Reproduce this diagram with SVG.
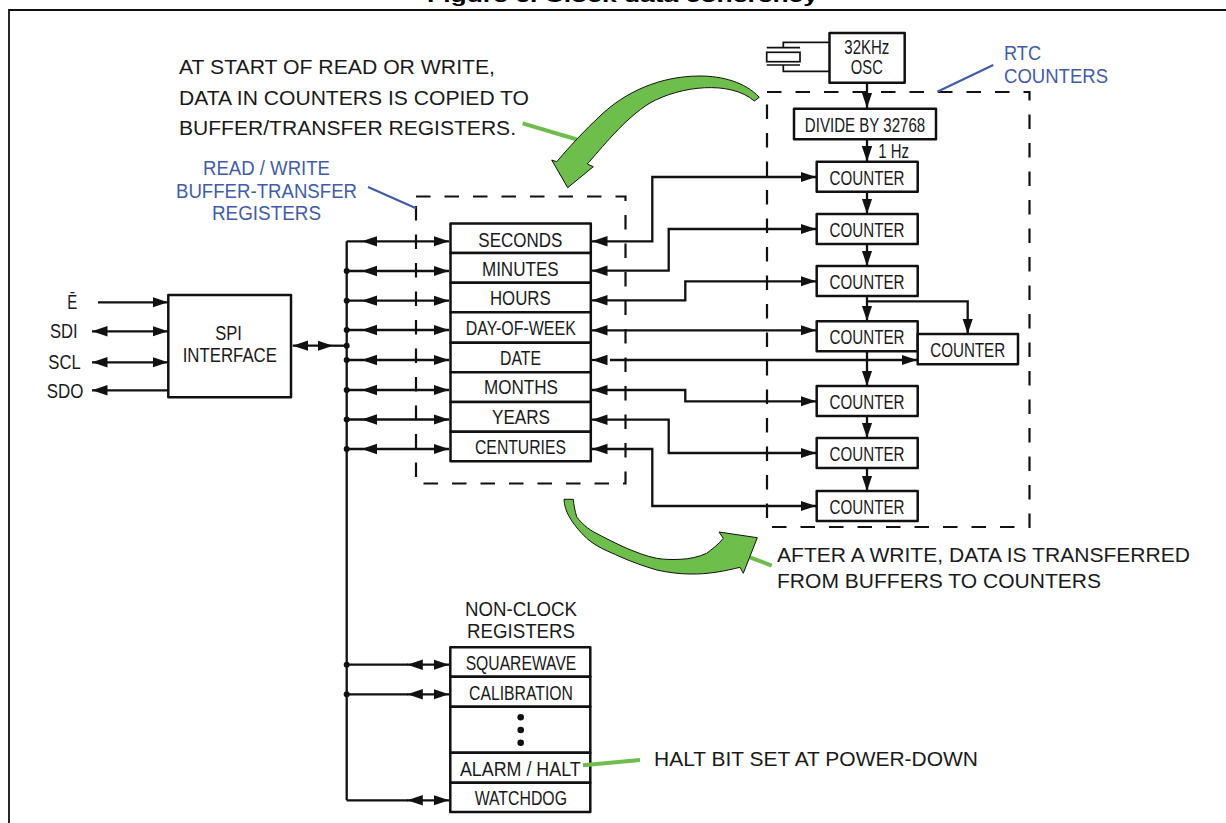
<svg xmlns="http://www.w3.org/2000/svg" width="1226" height="823" viewBox="0 0 1226 823">
<style>
text{font-family:"Liberation Sans",Arial,sans-serif;fill:#1a1a1a;font-size:20px}
.m{text-anchor:middle;font-size:20px}
.big{font-size:20.5px}
.blue{fill:#3f5dab;font-size:20px}
.title{font-weight:bold;font-size:19px;fill:#000}
.box{fill:#fff;stroke:#111;stroke-width:2.5;stroke-linejoin:round}
.c{fill:none;stroke:#111;stroke-width:2.3;stroke-linejoin:miter}
.a{marker-end:url(#h)}
.b{marker-start:url(#h);marker-end:url(#h)}
.s{marker-start:url(#h)}
.dash{fill:none;stroke:#111;stroke-width:2.2;stroke-dasharray:14.5 14}
.x{fill:none;stroke:#111;stroke-width:1.7}
.gl{stroke:#6dbe4b;stroke-width:4;fill:none}
.bl{stroke:#3f5dab;stroke-width:2.2;fill:none}
.ga{fill:#6dbe4b;stroke:#111;stroke-width:1}
.dot{fill:#111}
</style>
<defs>
<marker id="h" markerUnits="userSpaceOnUse" markerWidth="17" markerHeight="12" refX="15.500" refY="6" orient="auto-start-reverse"><path d="M0 0.800L15.500 6L0 11.200Z" fill="#111"/></marker>
</defs>
<rect width="1226" height="823" fill="#fff"/>
<text class="title" x="427" y="1.500" textLength="391" lengthAdjust="spacingAndGlyphs">Figure 6. Clock data coherency</text>
<path d="M9 823V10H1226" fill="none" stroke="#111" stroke-width="1.800"/>

<g id="containers">
<rect class="dash" x="416" y="196.500" width="209.500" height="287"/>
<rect class="dash" x="767" y="92" width="262.500" height="435"/>
</g>

<g id="callouts">
<path class="gl" d="M522.700 123.300L577 139.500"/>
<path class="gl" d="M750 557.300L771.700 565.700"/>
<path class="bl" d="M937.300 91.700L993.300 65"/>
<path class="bl" d="M368 187L416 208.300"/>
<path class="ga" d="M759.300 97.300C745 82 722 76 700 76C660 76 625 92 600 116C585 130 570 146 556.700 161.700L551.700 160L567.700 187.700L593.300 166.700L587.300 164C600 150 625 118 650 103C680 86 730 80 754.300 101Z"/>
<path class="ga" d="M564 499.300C564.500 510 570 522 586.700 538.300C598 548 608 551 620 556.700C632 562 645 566.500 656.700 570C668 572.500 680 574 690 574C708 574.500 725 571 740 567.300L743.300 573.300L757.300 537.700L719 532L723.300 538.300C718 545 712 549 706.700 553.300C698 557 690 559 680 559.300C672 559.800 664 559.500 656.700 558.300C645 556 636 552 626.700 548.300C615 543 604 537.500 593.300 531.700C585 527 578 519 576.700 516.700C575 511 573.800 505 573.300 499.300Z"/>
</g>

<g id="connectors">
<path class="c a" d="M98 302.300H168"/>
<path class="c b" d="M92 331.300H168"/>
<path class="c b" d="M92 362.300H168"/>
<path class="c s" d="M92 390.300H168"/>
<path class="c b" d="M292.700 345.700H333"/>
<path class="c" d="M333 345.700H346.700"/>
<path class="c" d="M346.700 241.300V800.300"/>
<path class="c" d="M346.700 241.300H362M346.700 271H362M346.700 300.700H362M346.700 330H362M346.700 360H362M346.700 390H362M346.700 419.500H362M346.700 449H362M346.700 664.700H408M346.700 694.300H408M346.700 800.300H408"/>
<path class="c b" d="M361.700 241.300H449"/>
<path class="c b" d="M361.700 271H449"/>
<path class="c b" d="M361.700 300.700H449"/>
<path class="c b" d="M361.700 330H449"/>
<path class="c b" d="M361.700 360H449"/>
<path class="c b" d="M361.700 390H449"/>
<path class="c b" d="M361.700 419.500H449"/>
<path class="c b" d="M361.700 449H449"/>
<path class="c b" d="M407.300 664.700H449"/>
<path class="c b" d="M407.300 694.300H449"/>
<path class="c b" d="M407.300 800.300H449"/>
<circle class="dot" cx="346.700" cy="271" r="3"/><circle class="dot" cx="346.700" cy="300.700" r="3"/><circle class="dot" cx="346.700" cy="330" r="3"/><circle class="dot" cx="346.700" cy="345.700" r="3"/><circle class="dot" cx="346.700" cy="360" r="3"/><circle class="dot" cx="346.700" cy="390" r="3"/><circle class="dot" cx="346.700" cy="419.500" r="3"/><circle class="dot" cx="346.700" cy="449" r="3"/><circle class="dot" cx="346.700" cy="664.700" r="3"/><circle class="dot" cx="346.700" cy="694.300" r="3"/>
<path class="c b" d="M592 241.300H652.300V177H816"/>
<path class="c b" d="M592 270.700H668.700V229H816"/>
<path class="c b" d="M592 300.300H685.300V281.300H816"/>
<path class="c b" d="M592 330.300H816"/>
<path class="c s" d="M592 360H596"/>
<path class="c a" d="M610 360H917"/>
<path class="c b" d="M592 390H685.300V401.300H816"/>
<path class="c b" d="M592 419.700H668.700V453H816"/>
<path class="c b" d="M592 449H652.300V506H816"/>
<path class="c a" d="M867 83V108"/>
<path class="c a" d="M867 139.500V161.500"/>
<path class="c a" d="M867 192V214"/>
<path class="c a" d="M867 244V266"/>
<path class="c a" d="M867 296V321"/>
<path class="c a" d="M867 351.500V386"/>
<path class="c a" d="M867 416V438"/>
<path class="c a" d="M867 468V491"/>
<path class="c a" d="M867 301.300H967.700V334"/>
</g>

<g id="crystal">
<path class="x" d="M829.500 42.300H783.300V47.700M829.500 71.300H783.300V65M766.700 47.700H800M766.700 65H800"/>
<rect class="x" x="766.700" y="52.300" width="33.300" height="9.400"/>
</g>
<g id="osc"><rect class="box" x="829.500" y="33" width="75.200" height="49.700"/><text class="m" x="866.800" y="54" textLength="45" lengthAdjust="spacingAndGlyphs">32KHz</text><text class="m" x="866.800" y="74" textLength="32" lengthAdjust="spacingAndGlyphs">OSC</text></g>
<g id="divider"><rect class="box" x="794" y="108.700" width="142" height="30.600"/><text class="m" x="865" y="131.500" textLength="120.300" lengthAdjust="spacingAndGlyphs">DIVIDE BY 32768</text></g>
<text x="878.300" y="157.700" textLength="30.700" lengthAdjust="spacingAndGlyphs">1 Hz</text>
<g id="counter-1"><rect class="box" x="816.700" y="161.700" width="101" height="30"/><text class="m" x="867" y="185" textLength="75" lengthAdjust="spacingAndGlyphs">COUNTER</text></g>
<g id="counter-2"><rect class="box" x="816.700" y="214" width="101" height="30"/><text class="m" x="867" y="237" textLength="75" lengthAdjust="spacingAndGlyphs">COUNTER</text></g>
<g id="counter-3"><rect class="box" x="816.700" y="266" width="101" height="30"/><text class="m" x="867" y="289" textLength="75" lengthAdjust="spacingAndGlyphs">COUNTER</text></g>
<g id="counter-4"><rect class="box" x="816.700" y="321.300" width="101" height="30"/><text class="m" x="867" y="344" textLength="75" lengthAdjust="spacingAndGlyphs">COUNTER</text></g>
<g id="counter-date"><rect class="box" x="917.700" y="334" width="100.300" height="30.300"/><text class="m" x="967.700" y="357" textLength="75" lengthAdjust="spacingAndGlyphs">COUNTER</text></g>
<g id="counter-5"><rect class="box" x="816.700" y="386" width="101" height="30"/><text class="m" x="867" y="408.500" textLength="75" lengthAdjust="spacingAndGlyphs">COUNTER</text></g>
<g id="counter-6"><rect class="box" x="816.700" y="438" width="101" height="30"/><text class="m" x="867" y="460.500" textLength="75" lengthAdjust="spacingAndGlyphs">COUNTER</text></g>
<g id="counter-7"><rect class="box" x="816.700" y="491" width="101" height="30"/><text class="m" x="867" y="513.500" textLength="75" lengthAdjust="spacingAndGlyphs">COUNTER</text></g>

<g id="spi"><rect class="box" x="168.300" y="295" width="122.700" height="102.300"/><text class="m" x="228.500" y="340" textLength="26.700" lengthAdjust="spacingAndGlyphs">SPI</text><text class="m" x="229.800" y="362.300" textLength="94.300" lengthAdjust="spacingAndGlyphs">INTERFACE</text></g>
<g id="pins">
<text class="m" x="72.300" y="309" textLength="10" lengthAdjust="spacingAndGlyphs">Ē</text>
<text class="m" x="63.800" y="338.300" textLength="27.700" lengthAdjust="spacingAndGlyphs">SDI</text>
<text class="m" x="64.500" y="369" textLength="32.300" lengthAdjust="spacingAndGlyphs">SCL</text>
<text class="m" x="65" y="397.700" textLength="36.700" lengthAdjust="spacingAndGlyphs">SDO</text>
</g>

<g id="reg-seconds"><rect class="box" x="450.500" y="223.500" width="140.300" height="29.500"/><text class="m" x="520.300" y="246.500" textLength="84" lengthAdjust="spacingAndGlyphs">SECONDS</text></g>
<g id="reg-minutes"><rect class="box" x="450.500" y="253" width="140.300" height="29.800"/><text class="m" x="520.300" y="275.500" textLength="76.700" lengthAdjust="spacingAndGlyphs">MINUTES</text></g>
<g id="reg-hours"><rect class="box" x="450.500" y="282.800" width="140.300" height="29.500"/><text class="m" x="520.300" y="305.200" textLength="60.700" lengthAdjust="spacingAndGlyphs">HOURS</text></g>
<g id="reg-dow"><rect class="box" x="450.500" y="312.300" width="140.300" height="30.400"/><text class="m" x="520.800" y="335" textLength="110" lengthAdjust="spacingAndGlyphs">DAY-OF-WEEK</text></g>
<g id="reg-date"><rect class="box" x="450.500" y="342.700" width="140.300" height="29.600"/><text class="m" x="520.500" y="364.700" textLength="41" lengthAdjust="spacingAndGlyphs">DATE</text></g>
<g id="reg-months"><rect class="box" x="450.500" y="372.300" width="140.300" height="29.700"/><text class="m" x="521" y="394.400" textLength="74" lengthAdjust="spacingAndGlyphs">MONTHS</text></g>
<g id="reg-years"><rect class="box" x="450.500" y="402" width="140.300" height="29.700"/><text class="m" x="521" y="424" textLength="58" lengthAdjust="spacingAndGlyphs">YEARS</text></g>
<g id="reg-centuries"><rect class="box" x="450.500" y="431.700" width="140.300" height="29.500"/><text class="m" x="520.500" y="454" textLength="91" lengthAdjust="spacingAndGlyphs">CENTURIES</text></g>

<g id="reg-squarewave"><rect class="box" x="450.300" y="647.300" width="140" height="29.400"/><text class="m" x="521" y="669.700" textLength="110.700" lengthAdjust="spacingAndGlyphs">SQUAREWAVE</text></g>
<g id="reg-calibration"><rect class="box" x="450.300" y="676.700" width="140" height="30"/><text class="m" x="521" y="699.700" textLength="104" lengthAdjust="spacingAndGlyphs">CALIBRATION</text></g>
<g id="reg-ellipsis"><rect class="box" x="450.300" y="706.700" width="140" height="46"/><circle class="dot" cx="520.700" cy="717.300" r="3.300"/><circle class="dot" cx="520.700" cy="730" r="3.300"/><circle class="dot" cx="520.700" cy="742.700" r="3.300"/></g>
<g id="reg-alarm"><rect class="box" x="450.300" y="752.700" width="140" height="30"/><text class="m" x="520.300" y="775.500" textLength="120.700" lengthAdjust="spacingAndGlyphs">ALARM / HALT</text></g>
<g id="reg-watchdog"><rect class="box" x="450.300" y="782.700" width="140" height="29.300"/><text class="m" x="520.800" y="804.800" textLength="92.300" lengthAdjust="spacingAndGlyphs">WATCHDOG</text></g>
<path class="gl" d="M583 765.300L640 760"/>

<g id="labels">
<text class="big" x="179" y="74" textLength="316" lengthAdjust="spacingAndGlyphs">AT START OF READ OR WRITE,</text>
<text class="big" x="179" y="104.500" textLength="350" lengthAdjust="spacingAndGlyphs">DATA IN COUNTERS IS COPIED TO</text>
<text class="big" x="179" y="135" textLength="337" lengthAdjust="spacingAndGlyphs">BUFFER/TRANSFER REGISTERS.</text>
<text class="big" x="777" y="561.500" textLength="413" lengthAdjust="spacingAndGlyphs">AFTER A WRITE, DATA IS TRANSFERRED</text>
<text class="big" x="777" y="588" textLength="324" lengthAdjust="spacingAndGlyphs">FROM BUFFERS TO COUNTERS</text>
<text class="big" x="654" y="766" textLength="324" lengthAdjust="spacingAndGlyphs">HALT BIT SET AT POWER-DOWN</text>
<text class="blue" x="203" y="175" textLength="127" lengthAdjust="spacingAndGlyphs">READ / WRITE</text>
<text class="blue" x="176" y="197.500" textLength="181" lengthAdjust="spacingAndGlyphs">BUFFER-TRANSFER</text>
<text class="blue" x="212" y="220" textLength="109" lengthAdjust="spacingAndGlyphs">REGISTERS</text>
<text class="blue" x="1004" y="60" textLength="37" lengthAdjust="spacingAndGlyphs">RTC</text>
<text class="blue" x="1004" y="83" textLength="104" lengthAdjust="spacingAndGlyphs">COUNTERS</text>
<text x="465" y="615.500" textLength="112" lengthAdjust="spacingAndGlyphs">NON-CLOCK</text>
<text x="467" y="637.500" textLength="108" lengthAdjust="spacingAndGlyphs">REGISTERS</text>
</g>
</svg>
